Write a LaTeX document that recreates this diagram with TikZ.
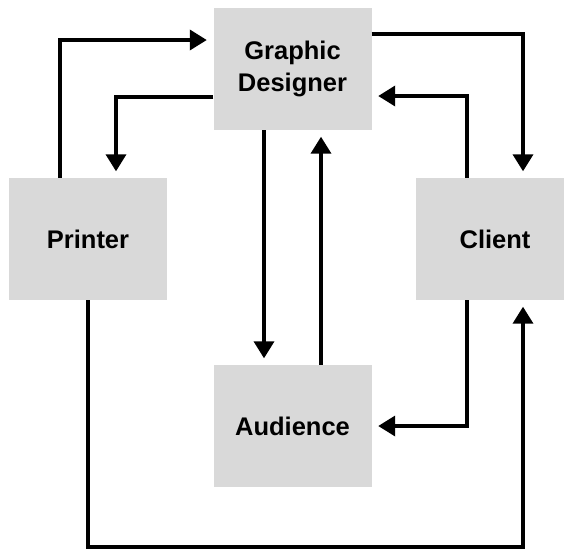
\documentclass[tikz,border=0pt]{standalone}
\usepackage{fontspec}
\setmainfont{Liberation Sans}
\usetikzlibrary{positioning,arrows.meta}
\definecolor{boxgray}{HTML}{D9D9D9}

\begin{document}
\begin{tikzpicture}[x=1pt, y=-1pt, node distance = 170pt, on grid,
    role/.style={fill=boxgray, minimum width=158pt, minimum height=122pt,
        align=center, font=\fontsize{25.5}{32}\selectfont\bfseries},
    flow/.style={-{Triangle[length=17pt,width=20pt]}, line width=3.6pt, shorten >=6.5pt}]
    \clip (0,0) rectangle (564,550);
    \fill[white] (0,0) rectangle (564,550);

    \node [role] (designer) at (292.5,69) {Graphic\\Designer};
    \node [role] [below left=170pt and 204.5pt of designer] (printer) {Printer};
    \node [role] [below right=170pt and 202.5pt of designer] (client) {Client};
    \node [role] [below=357pt of designer] (audience) {Audience};
    \coordinate (base) at (0,547);

    \draw [flow] ([xshift=-28pt]printer.north) |- ([yshift=29pt]designer.west);
    \draw [flow] ([yshift=-28pt]designer.west) -| ([xshift=28pt]printer.north);
    \draw [flow] ([yshift=35pt]designer.east) -| ([xshift=28pt]client.north);
    \draw [flow] ([xshift=-28pt]client.north) |- ([yshift=-27pt]designer.east);
    \draw [flow] ([xshift=-28.5pt]designer.south) -- ([xshift=-28.5pt]audience.north);
    \draw [flow] ([xshift=28.5pt]audience.north) -- ([xshift=28.5pt]designer.south);
    \draw [flow] ([xshift=-28pt]client.south) |- (audience.east);
    \draw [flow] (printer.south) -- (printer.south |- base) -| ([xshift=28pt]client.south);
\end{tikzpicture}
\end{document}
